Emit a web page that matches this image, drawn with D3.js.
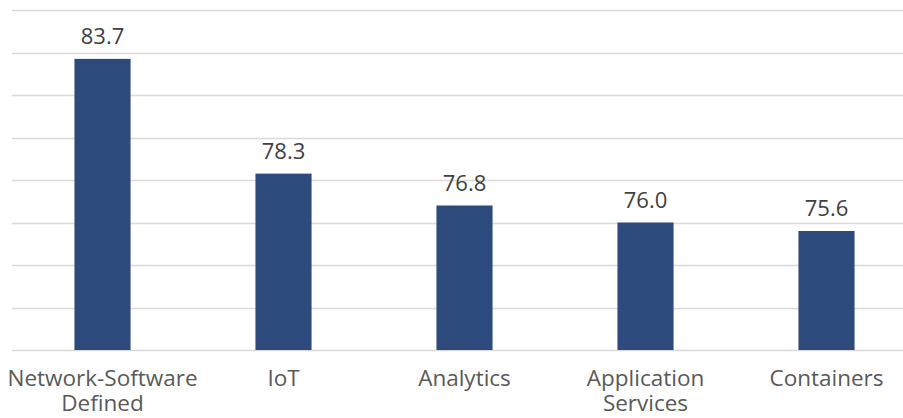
<!DOCTYPE html>
<html>
<head>
<meta charset="utf-8">
<script src="https://cdn.jsdelivr.net/npm/d3@7"></script>
<style>
  body { margin: 0; background: #fff; }
  svg { display: block; }
</style>
</head>
<body>
<svg id="chart" width="903" height="418"></svg>
<script>
const categories = [["Network-Software", "Defined"], ["IoT"], ["Analytics"], ["Application", "Services"], ["Containers"]];
const values = [83.7, 78.3, 76.8, 76.0, 75.6];
const gridTicks = [70, 72, 74, 76, 78, 80, 82, 84, 86];

var svg = d3.select("#chart"),
    margin = { top: 10, left: 12, bottom: 68, right: -14 },
    width = +svg.attr("width"),
    height = +svg.attr("height");

var names = categories.map(c => c.join(" "));

var x = d3.scaleBand()
    .domain(names)
    .range([margin.left, width - margin.right])
    .paddingInner(0.69)
    .paddingOuter(0.345);

var y = d3.scaleLinear()
    .domain([70, 86])
    .range([height - margin.bottom, margin.top]);

// gridlines
svg.append("g")
    .selectAll("line")
    .data(gridTicks)
    .enter().append("line")
    .attr("x1", margin.left)
    .attr("x2", width)
    .attr("y1", d => Math.round(y(d)) + 0.5)
    .attr("y2", d => Math.round(y(d)) + 0.5)
    .attr("stroke", "#d9d9d9")
    .attr("stroke-width", 1.5);

// bars
svg.append("g")
    .selectAll("rect")
    .data(values)
    .enter().append("rect")
    .attr("x", (d, i) => x(names[i]))
    .attr("y", d => y(d))
    .attr("width", x.bandwidth())
    .attr("height", d => y(70) - y(d))
    .attr("fill", "#2c4a7b");

// value labels
svg.append("g")
    .selectAll("text")
    .data(values)
    .enter().append("text")
    .attr("x", (d, i) => x(names[i]) + x.bandwidth() / 2)
    .attr("y", d => y(d) - 15)
    .attr("text-anchor", "middle")
    .attr("font-family", "'Open Sans', sans-serif")
    .attr("font-size", "22px")
    .attr("fill", "#404040")
    .text(d => d.toFixed(1));

// category labels, one text per line
var lines = [];
categories.forEach((c, i) => c.forEach((t, j) => lines.push({ name: names[i], text: t, row: j })));

svg.append("g")
    .selectAll("text")
    .data(lines)
    .enter().append("text")
    .attr("x", d => x(d.name) + x.bandwidth() / 2)
    .attr("y", d => 386 + d.row * 25)
    .attr("text-anchor", "middle")
    .attr("font-family", "'Open Sans', sans-serif")
    .attr("font-size", "22.5px")
    .attr("fill", "#595959")
    .text(d => d.text);
</script>
</body>
</html>
